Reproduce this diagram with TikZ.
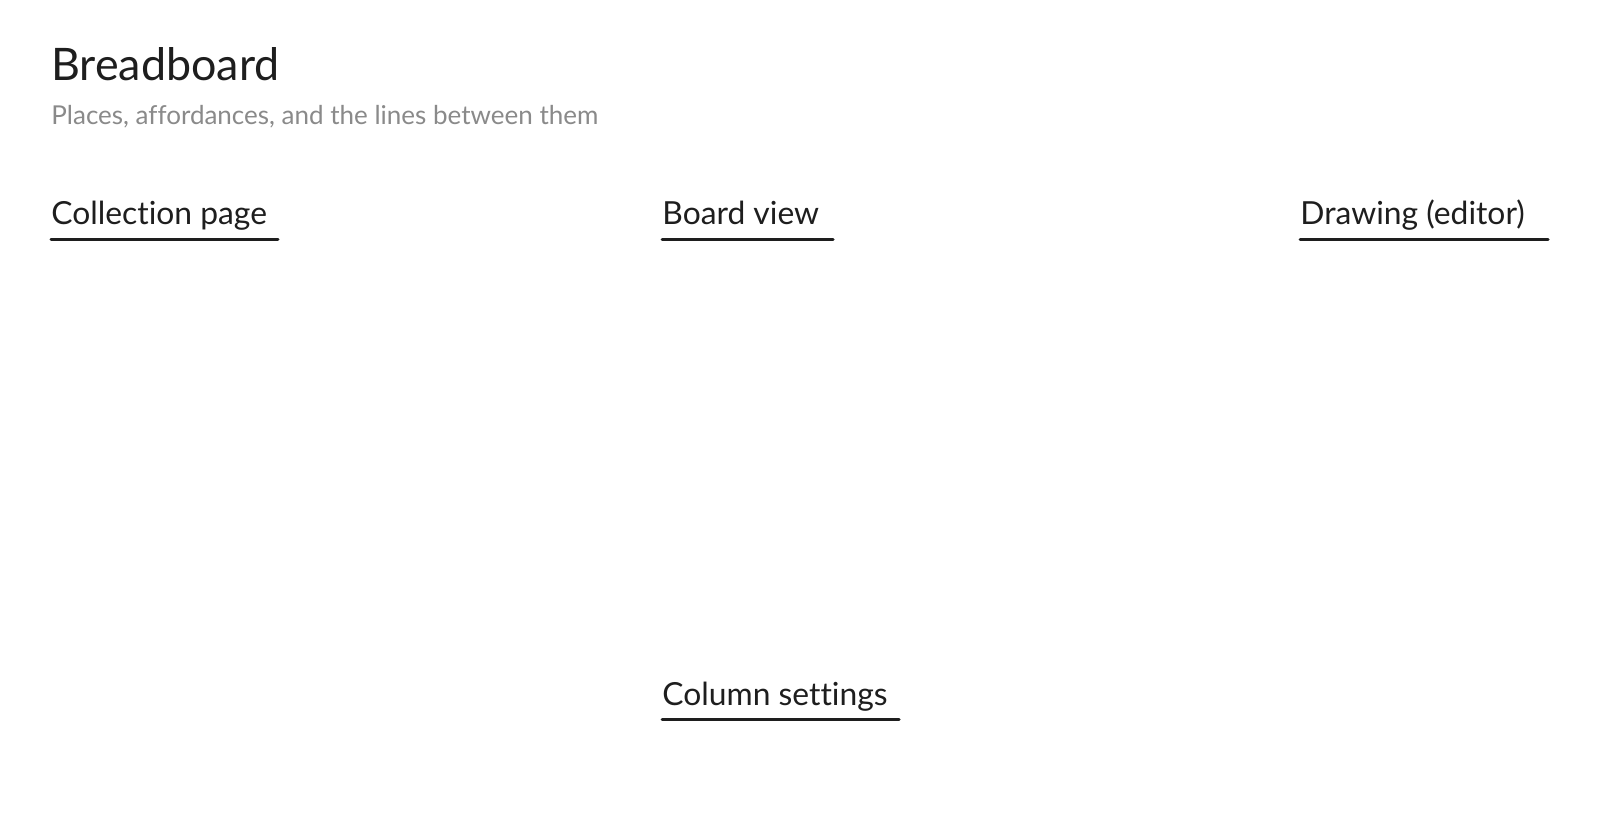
\documentclass[tikz,border=0pt]{standalone}
\usepackage{fontspec}
\setmainfont{Lato}[Ligatures=NoCommon]
\definecolor{ink}{HTML}{1E1E1E}
\definecolor{subgray}{HTML}{8A8A8A}
\begin{document}
\begin{tikzpicture}[x=0.5pt,y=-0.5pt,
  titletext/.style={anchor=base west,inner sep=0pt,text=ink,font=\fontsize{22.4}{26}\selectfont},
  subtext/.style={anchor=base west,inner sep=0pt,text=subgray,font=\fontsize{13}{15}\selectfont},
  placetext/.style={anchor=base west,inner sep=0pt,text=ink,font=\fontsize{15.9}{18}\selectfont},
  placeline/.style={draw=ink,line width=1.5pt,line cap=round}]
\useasboundingbox (0,0) rectangle (1600,823);
\fill[white] (0,0) rectangle (1600,823);
\node[titletext] (title) at (51,81) {Breadboard};
\node[subtext] (subtitle) at (51,125) {Places, affordances, and the lines between them};
\node[placetext] (collection) at (51,225) {Collection page};
\node[placetext] (board) at (662,225) {Board view};
\node[placetext] (drawing) at (1300,225) {Drawing (editor)};
\node[placetext] (column) at (662,705) {Column settings};
\coordinate (collectionL) at (51,240); \coordinate (collectionR) at (278,240);
\coordinate (boardL) at (662,240); \coordinate (boardR) at (833,240);
\coordinate (drawingL) at (1300,240); \coordinate (drawingR) at (1548,240);
\coordinate (columnL) at (662,719); \coordinate (columnR) at (899,719);
\draw[placeline] (collectionL) -- (collectionR);
\draw[placeline] (boardL) -- (boardR);
\draw[placeline] (drawingL) -- (drawingR);
\draw[placeline] (columnL) -- (columnR);
\end{tikzpicture}
\end{document}
